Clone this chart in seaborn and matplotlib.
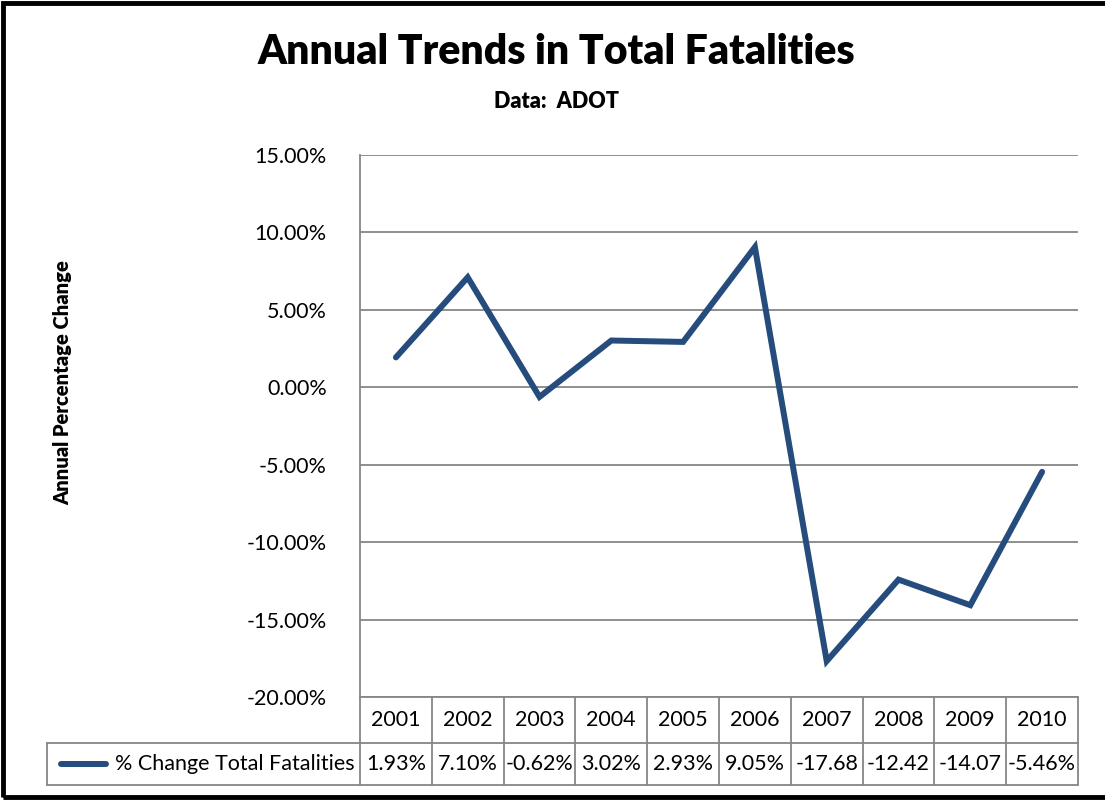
import numpy as np
import matplotlib
matplotlib.use("Agg")
import matplotlib.pyplot as plt
import matplotlib.transforms as mtransforms
from matplotlib.patches import Rectangle
from matplotlib.lines import Line2D
import seaborn as sns

# chart data
years = ["2001", "2002", "2003", "2004", "2005", "2006", "2007", "2008", "2009", "2010"]
pct_change = [1.93, 7.10, -0.62, 3.02, 2.93, 9.05, -17.68, -12.42, -14.07, -5.46]
table_labels = ["1.93%", "7.10%", "-0.62%", "3.02%", "2.93%", "9.05%",
                "-17.68", "-12.42", "-14.07", "-5.46%"]
y_ticks = [-20, -15, -10, -5, 0, 5, 10, 15]
series_name = "% Change Total Fatalities"

sns.set_style("white")
plt.rcParams['font.family'] = ['Lato', 'DejaVu Sans']
plt.rcParams['text.color'] = 'black'
plt.rcParams['ytick.color'] = 'black'

line_color = "#254c7d"
grid_color = "#868686"
W, H = 1105, 802

fig = plt.figure(figsize=(W / 100, H / 100), dpi=100)
# axes in pixel coords: left 360, right 1078, top 155, bottom 697
ax = fig.add_axes([360 / W, 1 - 697 / H, (1078 - 360) / W, (697 - 155) / H])

x = np.arange(len(years))
sns.lineplot(x=x, y=pct_change, ax=ax, color=line_color, linewidth=4.3,
             solid_capstyle='round', solid_joinstyle='miter')

ax.set_xlim(-0.5, len(years) - 0.5)
ax.set_ylim(-20, 15)
ax.set_yticks(y_ticks)
ax.set_yticklabels([f"{v:.2f}%" for v in y_ticks], fontsize=15.5)
ax.set_xticks([])
ax.tick_params(axis='y', length=0, pad=24)
for v in y_ticks:
    ax.axhline(v, color=grid_color, linewidth=1.3, zorder=0)
for s in ["top", "right", "bottom"]:
    ax.spines[s].set_visible(False)
ax.spines["left"].set_color(grid_color)
ax.spines["left"].set_linewidth(1.3)

# data table below the axes (x in data units, y in axes fraction)
trans = mtransforms.blended_transform_factory(ax.transData, ax.transAxes)
ax_h = 697 - 155
r1 = -(743 - 697) / ax_h
r2 = -(785 - 697) / ax_h
left_cell = -0.5 - (360 - 47) / ((1078 - 360) / len(years))
right = len(years) - 0.5
lk = dict(color=grid_color, linewidth=1.3, transform=trans, clip_on=False)
ax.add_line(Line2D([-0.5, -0.5], [0, r2], **lk))
ax.add_line(Line2D([right, right], [0, r2], **lk))
ax.add_line(Line2D([left_cell, right], [r1, r1], **lk))
ax.add_line(Line2D([left_cell, right], [r2, r2], **lk))
ax.add_line(Line2D([left_cell, left_cell], [r1, r2], **lk))
ax.add_line(Line2D([-0.5, right], [0, 0], **lk))
for i in range(1, len(years)):
    ax.add_line(Line2D([i - 0.5, i - 0.5], [0, r2], **lk))
for i, (yr, lab) in enumerate(zip(years, table_labels)):
    ax.text(i, r1 / 2, yr, transform=trans, ha='center', va='center', fontsize=15.5)
    ax.text(i, (r1 + r2) / 2, lab, transform=trans, ha='center', va='center', fontsize=15.5)
# legend key in the table
ax.add_line(Line2D([left_cell + 0.2, left_cell + 0.82], [(r1 + r2) / 2] * 2,
                   color=line_color, linewidth=4.3, solid_capstyle='round',
                   transform=trans, clip_on=False))
ax.text(-0.5 - 0.08, (r1 + r2) / 2, series_name, transform=trans,
        ha='right', va='center', fontsize=15.5)

# titles
fig.text(556 / W, 1 - 52 / H, "Annual Trends in Total Fatalities",
         ha='center', va='center', fontsize=29.5, fontweight='heavy')
fig.text(556 / W, 1 - 101 / H, "Data:  ADOT",
         ha='center', va='center', fontsize=15.5, fontweight='heavy')
fig.text(63 / W, 1 - 383 / H, "Annual Percentage Change", rotation=90,
         ha='center', va='center', fontsize=14.5, fontweight='heavy')

# outer frame
fig.patches.append(Rectangle((3 / W, 1 - 797 / H), (W + 20) / W, (797 - 3) / H,
                             transform=fig.transFigure, fill=False,
                             edgecolor='black', linewidth=3.5))

fig.savefig("out.png", dpi=100)
